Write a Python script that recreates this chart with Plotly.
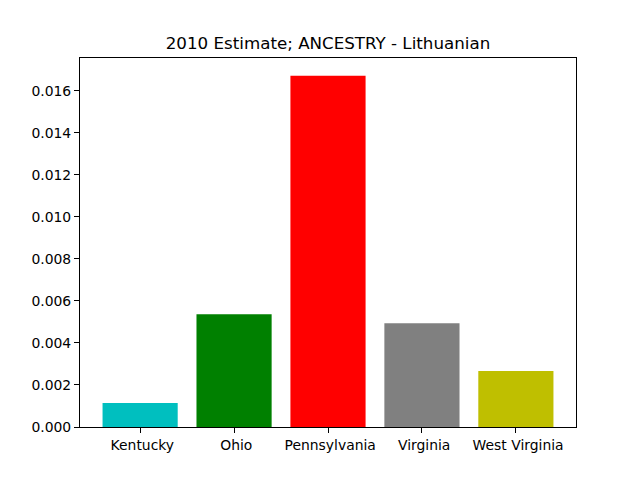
import plotly.graph_objects as go

states = ["Kentucky", "Ohio", "Pennsylvania", "Virginia", "West Virginia"]
values = [0.00114, 0.00537, 0.01672, 0.00494, 0.00266]
colors = ["#00BFBF", "#008000", "#FF0000", "#808080", "#BFBF00"]
title = "2010 Estimate; ANCESTRY - Lithuanian"

fig = go.Figure(go.Bar(x=list(range(len(states))), y=values, marker_color=colors,
                       marker_line_width=0, width=0.8))

fig.update_layout(
    width=640, height=480,
    margin=dict(l=72, r=72, t=50, b=61),
    paper_bgcolor="white", plot_bgcolor="white",
    font=dict(family="DejaVu Sans", size=13.9, color="black"),
    title=dict(text=title, x=0.5, xref="paper", xanchor="center",
               y=1 - 35 / 480, yref="container", yanchor="middle",
               font=dict(size=16.7)),
    showlegend=False,
)
fig.update_xaxes(range=[-0.64, 4.64], tickmode="array", tickvals=list(range(len(states))),
                 ticktext=["\u00a0" + s for s in states], showline=True, mirror=True,
                 linecolor="black", linewidth=1,
                 ticks="outside", ticklen=5, tickcolor="black", showgrid=False, zeroline=False)
fig.update_yaxes(range=[0, 0.01756], tickmode="linear", tick0=0, dtick=0.002, tickformat=".3f",
                 showline=True, mirror=True, linecolor="black", linewidth=1,
                 ticks="outside", ticklen=5, tickcolor="black", showgrid=False, zeroline=False)

fig.write_html("out.html")
